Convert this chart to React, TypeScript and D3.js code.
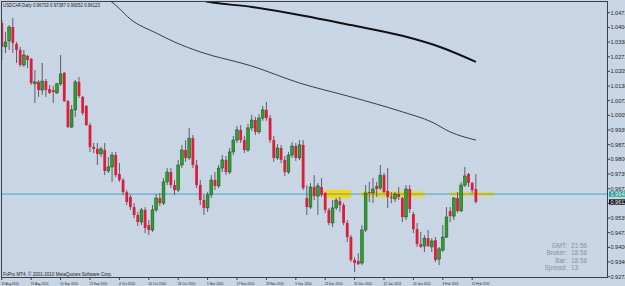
import React, { useEffect, useRef } from "react";
import * as d3 from "d3";

// USDCHF daily, 19 Aug 2010 .. 18 Feb 2011
const title = "USDCHF,Daily  0.96703 0.97387 0.96052 0.96123";
const copyright = "FxPro MT4, © 2001-2010 MetaQuotes Software Corp.";

const opens = [
  1.0425, 1.0316, 1.0343, 1.0406, 1.0329, 1.0302, 1.0234, 1.0275, 1.0261, 1.0148,
  1.0157, 1.0120, 1.0161, 1.0125, 1.0120, 1.0107, 1.0148, 1.0198, 1.0070, 0.9952,
  1.0030, 1.0157, 1.0089, 1.0048, 0.9961, 0.9862, 0.9853, 0.9830, 0.9848, 0.9753,
  0.9771, 0.9825, 0.9739, 0.9712, 0.9657, 0.9635, 0.9589, 0.9553, 0.9521, 0.9576,
  0.9507, 0.9485, 0.9576, 0.9630, 0.9607, 0.9703, 0.9748, 0.9689, 0.9666, 0.9780,
  0.9848, 0.9812, 0.9902, 0.9780, 0.9689, 0.9621, 0.9585, 0.9644, 0.9712, 0.9685,
  0.9766, 0.9803, 0.9748, 0.9839, 0.9893, 0.9939, 0.9893, 0.9848, 0.9948, 0.9984,
  0.9930, 0.9993, 1.0030, 0.9993, 0.9893, 0.9812, 0.9857, 0.9803, 0.9748, 0.9825,
  0.9866, 0.9812, 0.9871, 0.9630, 0.9589, 0.9680, 0.9639, 0.9680, 0.9653, 0.9576,
  0.9517, 0.9585, 0.9616, 0.9598, 0.9517, 0.9453, 0.9349, 0.9344, 0.9335, 0.9485,
  0.9657, 0.9653, 0.9685, 0.9675, 0.9734, 0.9662, 0.9635, 0.9626, 0.9648, 0.9630,
  0.9544, 0.9671, 0.9557, 0.9489, 0.9421, 0.9412, 0.9448, 0.9408, 0.9439, 0.9353,
  0.9394, 0.9453, 0.9571, 0.9548, 0.9630, 0.9571, 0.9689, 0.9739, 0.9698, 0.96703,
];
const highs = [
  1.0438, 1.0384, 1.0415, 1.0447, 1.0338, 1.0316, 1.0302, 1.0279, 1.0266, 1.0211,
  1.0166, 1.0243, 1.0170, 1.0143, 1.0139, 1.0152, 1.0279, 1.0202, 1.0075, 1.0052,
  1.0166, 1.0179, 1.0093, 1.0052, 0.9971, 0.9880, 0.9880, 0.9862, 0.9880, 0.9816,
  0.9839, 0.9839, 0.9789, 0.9721, 0.9666, 0.9644, 0.9607, 0.9567, 0.9585, 0.9589,
  0.9530, 0.9598, 0.9648, 0.9653, 0.9721, 0.9766, 0.9766, 0.9712, 0.9803, 0.9871,
  0.9893, 0.9948, 0.9916, 0.9803, 0.9712, 0.9644, 0.9657, 0.9734, 0.9748, 0.9780,
  0.9825, 0.9821, 0.9857, 0.9912, 0.9957, 0.9961, 0.9912, 0.9966, 1.0007, 0.9998,
  1.0011, 1.0048, 1.0066, 1.0007, 0.9912, 0.9875, 0.9871, 0.9821, 0.9839, 0.9884,
  0.9880, 0.9893, 0.9893, 0.9689, 0.9698, 0.9734, 0.9698, 0.9721, 0.9657, 0.9585,
  0.9621, 0.9630, 0.9635, 0.9607, 0.9530, 0.9462, 0.9362, 0.9380, 0.9507, 0.9689,
  0.9703, 0.9721, 0.9703, 0.9780, 0.9744, 0.9766, 0.9657, 0.9657, 0.9680, 0.9635,
  0.9689, 0.9689, 0.9567, 0.9517, 0.9476, 0.9462, 0.9485, 0.9448, 0.9453, 0.9408,
  0.9507, 0.9589, 0.9589, 0.9635, 0.9657, 0.9703, 0.9771, 0.9744, 0.9703, 0.97387,
];
const lows = [
  1.0257, 1.0288, 1.0302, 1.0288, 1.0243, 1.0225, 1.0225, 1.0220, 1.0143, 1.0061,
  1.0089, 1.0098, 1.0089, 1.0102, 1.0061, 1.0102, 1.0139, 1.0066, 0.9948, 0.9948,
  0.9998, 1.0084, 1.0007, 0.9957, 0.9839, 0.9834, 0.9780, 0.9816, 0.9734, 0.9744,
  0.9703, 0.9725, 0.9703, 0.9644, 0.9598, 0.9576, 0.9539, 0.9503, 0.9507, 0.9471,
  0.9462, 0.9476, 0.9567, 0.9594, 0.9598, 0.9689, 0.9675, 0.9644, 0.9657, 0.9766,
  0.9794, 0.9803, 0.9766, 0.9675, 0.9598, 0.9553, 0.9567, 0.9630, 0.9666, 0.9675,
  0.9748, 0.9734, 0.9739, 0.9825, 0.9880, 0.9880, 0.9834, 0.9839, 0.9934, 0.9916,
  0.9921, 0.9980, 0.9980, 0.9880, 0.9794, 0.9803, 0.9789, 0.9730, 0.9739, 0.9812,
  0.9798, 0.9803, 0.9666, 0.9553, 0.9580, 0.9621, 0.9553, 0.9635, 0.9562, 0.9507,
  0.9498, 0.9576, 0.9567, 0.9507, 0.9430, 0.9340, 0.9294, 0.9326, 0.9326, 0.9476,
  0.9612, 0.9607, 0.9635, 0.9666, 0.9653, 0.9585, 0.9607, 0.9612, 0.9621, 0.9521,
  0.9530, 0.9562, 0.9471, 0.9408, 0.9403, 0.9385, 0.9408, 0.9385, 0.9340, 0.9326,
  0.9385, 0.9448, 0.9521, 0.9530, 0.9562, 0.9567, 0.9680, 0.9680, 0.9653, 0.96052,
];
const closes = [
  1.0316, 1.0338, 1.0406, 1.0334, 1.0302, 1.0234, 1.0279, 1.0257, 1.0152, 1.0157,
  1.0120, 1.0161, 1.0120, 1.0107, 1.0111, 1.0148, 1.0193, 1.0070, 0.9952, 1.0030,
  1.0157, 1.0093, 1.0016, 0.9961, 0.9862, 0.9853, 0.9830, 0.9853, 0.9753, 0.9771,
  0.9825, 0.9734, 0.9712, 0.9657, 0.9612, 0.9589, 0.9553, 0.9521, 0.9576, 0.9494,
  0.9485, 0.9576, 0.9630, 0.9607, 0.9703, 0.9748, 0.9689, 0.9666, 0.9780, 0.9848,
  0.9812, 0.9902, 0.9780, 0.9689, 0.9621, 0.9585, 0.9644, 0.9712, 0.9685, 0.9766,
  0.9803, 0.9748, 0.9839, 0.9893, 0.9939, 0.9893, 0.9848, 0.9948, 0.9984, 0.9930,
  0.9993, 1.0030, 0.9993, 0.9893, 0.9812, 0.9857, 0.9803, 0.9748, 0.9825, 0.9866,
  0.9812, 0.9871, 0.9675, 0.9589, 0.9680, 0.9639, 0.9685, 0.9644, 0.9576, 0.9517,
  0.9585, 0.9621, 0.9598, 0.9517, 0.9453, 0.9349, 0.9335, 0.9330, 0.9485, 0.9653,
  0.9653, 0.9671, 0.9671, 0.9734, 0.9657, 0.9635, 0.9630, 0.9648, 0.9635, 0.9544,
  0.9671, 0.9580, 0.9489, 0.9421, 0.9408, 0.9448, 0.9412, 0.9435, 0.9349, 0.9399,
  0.9453, 0.9544, 0.9548, 0.9630, 0.9571, 0.9689, 0.9730, 0.9698, 0.9666, 0.96123,
];

// one date label every 8 bars
const dateLabels = [
  "19 Aug 2010", "31 Aug 2010", "10 Sep 2010", "22 Sep 2010", "4 Oct 2010", "14 Oct 2010",
  "26 Oct 2010", "5 Nov 2010", "17 Nov 2010", "29 Nov 2010", "9 Dec 2010", "21 Dec 2010",
  "31 Dec 2010", "12 Jan 2011", "24 Jan 2011", "3 Feb 2011", "15 Feb 2011",
];
const priceLabels = [
  "1.04710", "1.04040", "1.03380", "1.02710", "1.02050", "1.01380", "1.00720", "1.00050",
  "0.99390", "0.98720", "0.98060", "0.97390", "0.96720", "0.96060", "0.95390", "0.94730",
  "0.94060", "0.93400", "0.92730",
];

// moving averages, read at a few bars
const maFastBars = [27, 29, 36, 42, 47, 54, 68, 81, 95, 109, 117, 122, 129];
const maFastValues = [1.0543, 1.0529, 1.0429, 1.0379, 1.0338, 1.0293, 1.0229, 1.0152, 1.0089, 1.0021, 0.9975, 0.993, 0.9893];
const maSlowBars = [52, 54, 68, 81, 95, 109, 120, 129];
const maSlowValues = [1.0545, 1.0529, 1.0497, 1.0461, 1.0415, 1.0366, 1.0311, 1.0248];

// yellow rectangles: bar from, bar to, upper price, lower price
const zoneFrom = [88, 97.8, 122];
const zoneTo = [95, 115, 134];
const zoneHigh = [0.9666, 0.9659, 0.9656];
const zoneLow = [0.963, 0.9636, 0.9641];

const hlinePrice = 0.9648;
const bidPrice = 0.96123;

const infoLabels = ["GMT:", "Broker:", "Bar:", "Spread:"];
const infoValues = ["21:56", "18:56", "18:56", "13"];

const W = 625;
const H = 286;

export default function App() {
  const ref = useRef<SVGSVGElement>(null);

  useEffect(() => {
    const svg = d3.select(ref.current);
    svg.selectAll("*").remove();

    const left = 1.5, top = 1.5, right = 607.5, bottom = 277.5;
    const x = d3.scaleLinear().domain([0, 129]).range([1.8, 1.8 + 129 * 3.675]);
    const y = d3.scaleLinear().domain([0.9273, 1.0471]).range([276.7, 12.7]);
    const font = "'Liberation Sans', Arial, sans-serif";

    const defs = svg.append("defs");
    const pat = defs.append("pattern")
      .attr("id", "dots").attr("width", 4).attr("height", 4)
      .attr("patternUnits", "userSpaceOnUse");
    pat.append("rect").attr("width", 4).attr("height", 4).attr("fill", "#c8d7e6");
    pat.append("rect").attr("x", 1).attr("y", 1).attr("width", 1).attr("height", 1).attr("fill", "#d3c9dc");
    pat.append("rect").attr("x", 3).attr("y", 3).attr("width", 1).attr("height", 1).attr("fill", "#d0cde0");
    defs.append("clipPath").attr("id", "plot")
      .append("rect").attr("x", left).attr("y", top)
      .attr("width", right - left).attr("height", bottom - top);

    svg.append("rect").attr("width", W).attr("height", H).attr("fill", "url(#dots)");

    const plot = svg.append("g").attr("clip-path", "url(#plot)");

    // yellow zones
    plot.selectAll(".zone")
      .data(zoneFrom)
      .enter()
      .append("rect")
      .attr("x", (d) => x(d))
      .attr("width", (d, i) => x(zoneTo[i]) - x(d))
      .attr("y", (d, i) => y(zoneHigh[i]))
      .attr("height", (d, i) => y(zoneLow[i]) - y(zoneHigh[i]))
      .attr("fill", "#ffd500");

    // horizontal line
    plot.append("line")
      .attr("x1", left).attr("x2", right)
      .attr("y1", y(hlinePrice)).attr("y2", y(hlinePrice))
      .attr("stroke", "#3fa6c6").attr("stroke-width", 1);

    // candles
    const bars = d3.range(opens.length);
    plot.selectAll(".wick")
      .data(bars)
      .enter()
      .append("line")
      .attr("x1", (i) => x(i)).attr("x2", (i) => x(i))
      .attr("y1", (i) => y(highs[i])).attr("y2", (i) => y(lows[i]))
      .attr("stroke", "#5c5f66").attr("stroke-width", 1);

    plot.selectAll(".body")
      .data(bars)
      .enter()
      .append("rect")
      .attr("x", (i) => x(i) - 1.4)
      .attr("width", 2.8)
      .attr("y", (i) => y(Math.max(opens[i], closes[i])))
      .attr("height", (i) => Math.max(1, Math.abs(y(opens[i]) - y(closes[i]))))
      .attr("fill", (i) => (closes[i] >= opens[i] ? "#23a823" : "#dc1e3c"))
      .attr("stroke", (i) => (closes[i] >= opens[i] ? "#2d3a2d" : "none"))
      .attr("stroke-width", 0.5);

    // moving averages
    const line = d3.line<number>().curve(d3.curveMonotoneX);
    plot.append("path")
      .attr("d", line(maFastBars.map((b, i) => [x(b), y(maFastValues[i])]) as any))
      .attr("fill", "none").attr("stroke", "#2a2a30").attr("stroke-width", 0.9);
    plot.append("path")
      .attr("d", line(maSlowBars.map((b, i) => [x(b), y(maSlowValues[i])]) as any))
      .attr("fill", "none").attr("stroke", "#111114").attr("stroke-width", 2);

    // frame
    svg.append("rect")
      .attr("x", left).attr("y", top)
      .attr("width", right - left).attr("height", bottom - top)
      .attr("fill", "none").attr("stroke", "#3c3f48").attr("stroke-width", 1);

    // price scale
    const priceScale = svg.append("g");
    priceLabels.forEach((label) => {
      const py = y(+label);
      priceScale.append("line")
        .attr("x1", right).attr("x2", right + 2.5)
        .attr("y1", py).attr("y2", py)
        .attr("stroke", "#3c3f48");
      priceScale.append("text")
        .attr("x", right + 3).attr("y", py + 2)
        .attr("font-family", font).attr("font-size", 5.5)
        .attr("fill", "#222").text(label);
    });

    // price tags
    const tags = [
      { price: hlinePrice, fill: "#17a08c" },
      { price: bidPrice, fill: "#101010" },
    ];
    tags.forEach((t) => {
      const ty = y(t.price);
      svg.append("rect")
        .attr("x", right + 1.5).attr("y", ty - 2.6)
        .attr("width", 20).attr("height", 5.2)
        .attr("fill", t.fill);
      svg.append("text")
        .attr("x", right + 3).attr("y", ty + 2)
        .attr("font-family", font).attr("font-size", 5.5)
        .attr("fill", "#ffffff").text(t.price.toFixed(5));
    });

    // time scale
    const timeScale = svg.append("g");
    dateLabels.forEach((label, k) => {
      const tx = x(k * 8);
      timeScale.append("line")
        .attr("x1", tx).attr("x2", tx)
        .attr("y1", bottom).attr("y2", bottom + 2.5)
        .attr("stroke", "#3c3f48");
      timeScale.append("text")
        .attr("x", tx - 0.5).attr("y", 284.5)
        .attr("font-family", font).attr("font-size", 4)
        .attr("textLength", label.length * 1.62)
        .attr("lengthAdjust", "spacingAndGlyphs")
        .attr("fill", "#222").text(label);
    });

    // header and footer
    svg.append("text")
      .attr("x", 3).attr("y", 7)
      .attr("font-family", font).attr("font-size", 5.6)
      .attr("textLength", 97).attr("lengthAdjust", "spacingAndGlyphs")
      .attr("fill", "#1a1a1a").text(title);
    svg.append("text")
      .attr("x", 3).attr("y", 276)
      .attr("font-family", font).attr("font-size", 5.4)
      .attr("textLength", 109).attr("lengthAdjust", "spacingAndGlyphs")
      .attr("fill", "#1a1a1a").text(copyright);

    // info panel
    infoLabels.forEach((label, k) => {
      const iy = 248 + k * 7.3;
      svg.append("text")
        .attr("x", 567).attr("y", iy)
        .attr("text-anchor", "end")
        .attr("font-family", font).attr("font-size", 6.4)
        .attr("fill", "#8692a4").text(label);
      svg.append("text")
        .attr("x", 571).attr("y", iy)
        .attr("font-family", font).attr("font-size", 6.4)
        .attr("fill", "#8692a4").text(infoValues[k]);
    });
  }, []);

  return (
    <svg ref={ref} width={W} height={H} style={{ position: "absolute", left: 0, top: 0 }} />
  );
}
